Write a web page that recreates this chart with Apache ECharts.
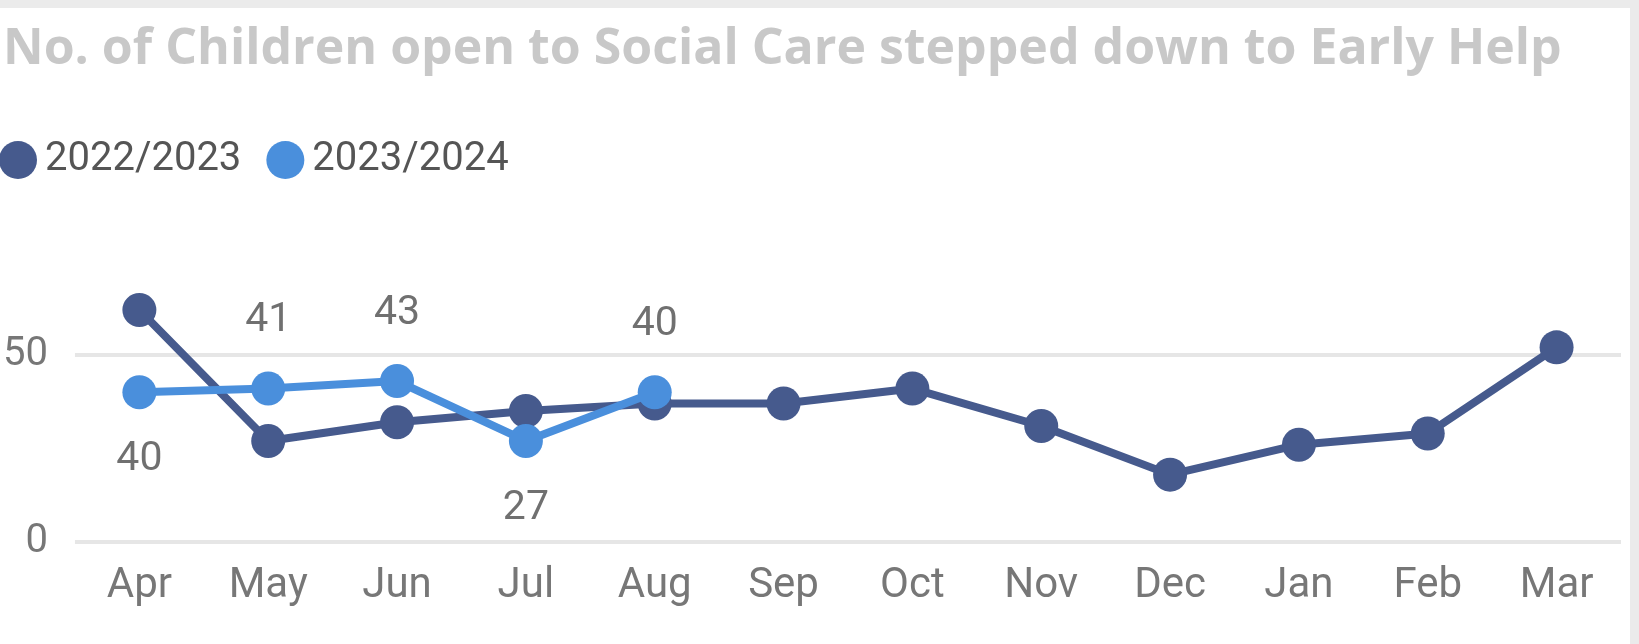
<!DOCTYPE html>
<html>
<head>
<meta charset="utf-8">
<script src="https://cdn.jsdelivr.net/npm/echarts@6/dist/echarts.min.js"></script>
<style>
  html, body { margin: 0; padding: 0; background: #ebebeb; width: 1639px; height: 644px; overflow: hidden; }
  #chart { position: absolute; left: 0; top: 8px; width: 1630px; height: 636px; background: #ffffff; }
</style>
</head>
<body>
<div id="chart"></div>
<script>
const titleText = 'No. of Children open to Social Care stepped down to Early Help';
const months = ['Apr','May','Jun','Jul','Aug','Sep','Oct','Nov','Dec','Jan','Feb','Mar'];
const seriesNames = ['2022/2023', '2023/2024'];
const values2022 = [62, 27, 32, 35, 37, 37, 41, 31, 18, 26, 29, 52];
const values2023 = [40, 41, 43, 27, 40];
const yTicks = [0, 50];

const labelBelowIdx = [0, 3];
const data2023 = values2023.map((v, i) => ({
  value: v,
  label: { position: labelBelowIdx.includes(i) ? 'bottom' : 'top' }
}));

const chart = echarts.init(document.getElementById('chart'));
const font = 'Roboto, "Noto Sans", sans-serif';
chart.setOption({
  animation: false,
  title: {
    text: titleText,
    left: -2, top: 12,
    textStyle: { fontFamily: '"Open Sans", "Noto Sans", sans-serif', fontWeight: 'bold', fontSize: 50, color: '#c8c8c8' }
  },
  legend: {
    data: seriesNames,
    left: -1, top: 132, padding: 0,
    icon: 'circle', itemWidth: 38, itemHeight: 38, itemGap: 25,
    textStyle: { fontFamily: font, fontSize: 40, color: '#555555', padding: [0,0,0,3] }
  },
  grid: { left: 71, width: 1550, top: 272, bottom: 102, containLabel: false },
  xAxis: {
    type: 'category', data: months, boundaryGap: true,
    axisLine: { show: false }, axisTick: { show: false },
    axisLabel: { fontFamily: font, fontSize: 42, color: '#777777', margin: 23 }
  },
  yAxis: {
    type: 'value', min: yTicks[0], max: 70, interval: yTicks[1] - yTicks[0],
    axisLine: { show: false }, axisTick: { show: false },
    axisLabel: { fontFamily: font, fontSize: 40, color: '#777777', margin: 27, showMaxLabel: false },
    splitLine: { lineStyle: { color: ['#e6e6e6', '#e6e6e6', 'rgba(0,0,0,0)'], width: 4 } }
  },
  series: [
    {
      name: seriesNames[0], type: 'line', data: values2022,
      symbol: 'circle', symbolSize: 34,
      itemStyle: { color: '#465a8d' },
      lineStyle: { color: '#465a8d', width: 8 },
      label: { show: false }, z: 2
    },
    {
      name: seriesNames[1], type: 'line', data: data2023,
      symbol: 'circle', symbolSize: 34,
      itemStyle: { color: '#4a8fdc' },
      lineStyle: { color: '#4a8fdc', width: 8 },
      label: { show: true, distance: 30, fontFamily: font, fontSize: 41, color: '#707070' },
      z: 3
    }
  ]
});
</script>
</body>
</html>
